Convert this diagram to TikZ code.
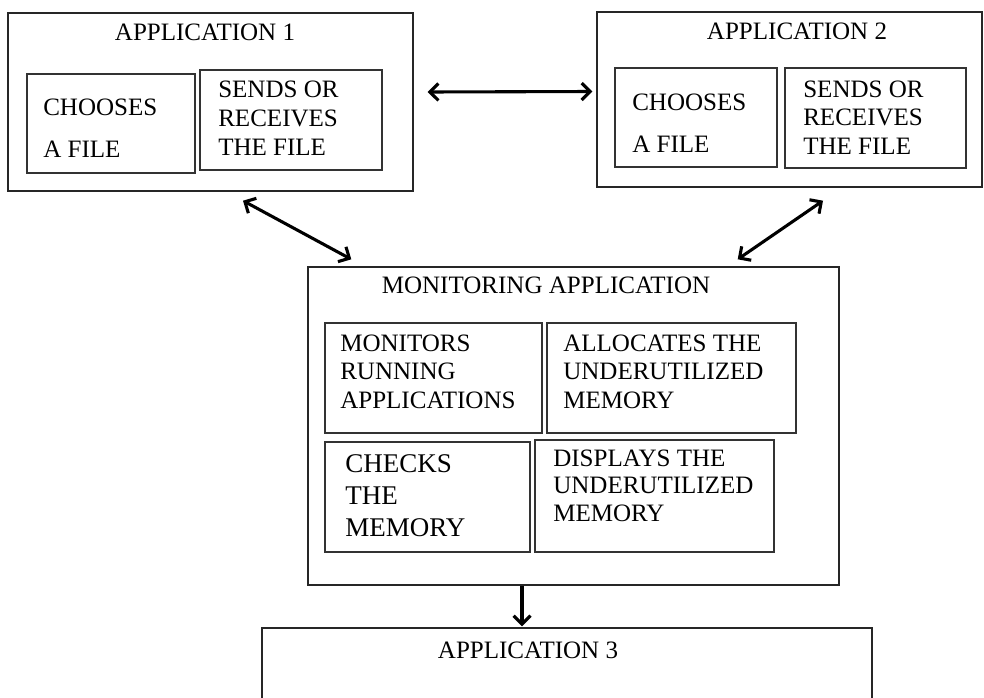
\documentclass[tikz,border=0pt]{standalone}
\usepackage{fontspec}
\setmainfont{Liberation Serif}
\usetikzlibrary{arrows.meta,fit,calc}
\begin{document}
\begin{tikzpicture}[x=0.025cm,y=-0.025cm,
  box/.style={draw=black!85, line width=1pt, inner sep=0pt},
  inbox/.style={draw=black!80, line width=1.1pt, inner sep=0pt},
  lbl/.style={anchor=base west, inner sep=0pt, font=\fontsize{17.8}{#1}\selectfont},
  lbl/.default=21pt,
  ttl/.style={anchor=base, inner sep=0pt, font=\fontsize{17.8}{21}\selectfont},
  tip/.style={Straight Barb[length=6pt,width=12pt,line width=2.2pt]},
  arr/.style={line width=2.2pt, {Straight Barb[length=6pt,width=12pt]}-{Straight Barb[length=6pt,width=12pt]}},
  arrone/.style={line width=2.2pt, -{Straight Barb[length=6pt,width=12pt]}}
]
\useasboundingbox (0,0) rectangle (984,697);

% Application 1
\node[box, fit={(8,13) (413,191)}] (app1) {};
\node[ttl] (app1t) at (205,40) {APPLICATION 1};
\node[inbox, fit={(27,74) (195,173)}] (app1a) {};
\node[lbl=29.9pt] (app1at) at (43,115) {\vtop{\hbox{CHOOSES}\hbox{A FILE}}};
\node[inbox, fit={(200,70) (382,170)}] (app1b) {};
\node[lbl=20.8pt] (app1bt) at (218,97) {\vtop{\hbox{SENDS OR}\hbox{RECEIVES}\hbox{THE FILE}}};

% Application 2
\node[box, fit={(597,12) (982,187)}] (app2) {};
\node[ttl] (app2t) at (797,39) {APPLICATION 2};
\node[inbox, fit={(615,68) (777,167)}] (app2a) {};
\node[lbl=29.9pt] (app2at) at (632,110) {\vtop{\hbox{CHOOSES}\hbox{A FILE}}};
\node[inbox, fit={(785,68) (966,168)}] (app2b) {};
\node[lbl=20.6pt] (app2bt) at (803,97) {\vtop{\hbox{SENDS OR}\hbox{RECEIVES}\hbox{THE FILE}}};

% Monitoring application
\node[box, fit={(308,267) (839,585)}] (mon) {};
\node[ttl] (mont) at (546,293) {MONITORING APPLICATION};
\node[inbox, fit={(325,323) (542,433)}] (mona) {};
\node[lbl=20.6pt] (monat) at (340,351) {\vtop{\hbox{MONITORS}\hbox{RUNNING}\hbox{APPLICATIONS}}};
\node[inbox, fit={(547,323) (796,433)}] (monb) {};
\node[lbl=20.3pt] (monbt) at (563,351) {\vtop{\hbox{ALLOCATES THE}\hbox{UNDERUTILIZED}\hbox{MEMORY}}};
\node[inbox, fit={(325,442) (530,552)}] (monc) {};
\node[anchor=base west, inner sep=0pt, font=\fontsize{19.2}{23.1}\selectfont] (monct) at (345,472) {\vtop{\hbox{CHECKS}\hbox{THE}\hbox{MEMORY}}};
\node[inbox, fit={(535,440) (774,552)}] (mond) {};
\node[lbl=19.9pt] (mondt) at (553,466) {\vtop{\hbox{DISPLAYS THE}\hbox{UNDERUTILIZED}\hbox{MEMORY}}};

% Application 3
\node[box, fit={(262,628) (872,730)}] (app3) {};
\node[ttl] (app3t) at (528,658) {APPLICATION 3};

% Connectors
\draw[arr] ($(app1.east)+(14,-10)$) -- ($(app2.west)+(-4,-8)$);
\draw[arr] ($(app1.south)+(32.5,9)$) -- ($(mon.north west)+(44,-7)$);
\draw[arr] ($(app2.south)+(33.5,13)$) -- ($(mon.north east)+(-102,-7)$);
\draw[arrone] ($(mon.south)+(-51.5,0)$) -- ($(app3.north)+(-45,-1)$);
\end{tikzpicture}
\end{document}
